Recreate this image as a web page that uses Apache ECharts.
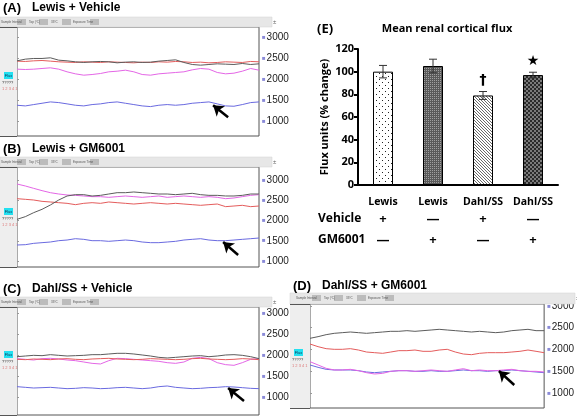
<!DOCTYPE html>
<html><head><meta charset="utf-8">
<script src="https://cdn.jsdelivr.net/npm/echarts@6/dist/echarts.min.js"></script>
<style>html,body{margin:0;padding:0;background:#fff}#c{width:577px;height:416px}</style>
</head><body><div id="c"></div>
<script>
// ================= DATA =================
const yTickValues = [1000, 1500, 2000, 2500, 3000];
const panelLetters = ['(A)', '(B)', '(C)', '(D)'];
const panelTitles = ['Lewis + Vehicle', 'Lewis + GM6001', 'Dahl/SS + Vehicle', 'Dahl/SS + GM6001'];

const aBlack = [2436,2476,2492,2492,2508,2452,2436,2413,2397,2413,2421,2413,2389,2405,2413,2397,2405,2429,2444,2460,2397,2349,2333,2349,2365,2357,2349,2373,2349,2365];
const aRed   = [2429,2421,2436,2444,2429,2413,2405,2397,2413,2405,2397,2413,2405,2397,2389,2405,2397,2413,2405,2421,2413,2397,2405,2389,2397,2413,2405,2397,2421,2413];
const aPink  = [2238,2230,2238,2254,2270,2238,2175,2127,2095,2111,2135,2175,2190,2214,2175,2111,2095,2127,2143,2159,2175,2222,2254,2238,2159,2127,2143,2190,2254,2214];
const aBlue  = [1381,1365,1397,1428,1460,1444,1413,1381,1365,1397,1413,1444,1460,1428,1397,1365,1349,1381,1397,1381,1397,1428,1444,1460,1413,1365,1357,1397,1444,1460];

const bBlack = [2029,2095,2194,2276,2383,2506,2605,2638,2638,2605,2621,2654,2687,2687,2704,2687,2671,2654,2654,2638,2654,2671,2638,2621,2621,2605,2605,2621,2654,2654];
const bRed   = [2539,2523,2506,2473,2457,2440,2424,2391,2424,2440,2424,2457,2440,2424,2407,2424,2440,2424,2407,2424,2407,2391,2375,2391,2407,2342,2358,2375,2342,2358];
const bPink  = [2901,2852,2794,2737,2687,2654,2630,2621,2605,2589,2589,2572,2589,2605,2589,2572,2589,2605,2572,2589,2605,2589,2572,2589,2572,2539,2556,2589,2621,2638];
const bBlue  = [1395,1403,1436,1453,1469,1502,1518,1551,1535,1502,1502,1486,1502,1518,1502,1469,1453,1453,1469,1486,1518,1535,1551,1518,1502,1502,1518,1535,1551,1568];

const cBlack = [1960,1976,1992,1984,2008,1992,1976,1984,1992,2008,2008,2024,2040,2040,2024,2000,1976,1944,1929,1944,1960,1976,1984,1960,1976,2000,2008,1992,1960,1913];
const cRed   = [1897,1889,1905,1897,1889,1905,1913,1897,1889,1905,1913,1921,1905,1897,1889,1897,1913,1905,1897,1889,1897,1913,1921,1905,1897,1889,1897,1913,1905,1889];
const cPink  = [1913,1897,1881,1913,1921,1905,1881,1865,1833,1801,1786,1865,1921,1913,1897,1881,1865,1849,1817,1801,1833,1921,1944,1913,1817,1770,1754,1817,1897,1913];
const cBlue  = [1246,1230,1214,1222,1230,1214,1198,1206,1222,1214,1198,1206,1222,1230,1214,1198,1214,1246,1262,1230,1214,1198,1206,1222,1230,1246,1238,1222,1206,1198];

const dBlack = [2257,2295,2341,2372,2387,2402,2387,2372,2387,2402,2418,2418,2433,2418,2433,2448,2464,2448,2433,2418,2402,2418,2402,2387,2402,2433,2448,2464,2433,2433];
const dRed   = [2126,2065,2019,2004,2004,2019,1988,1942,1927,1912,1942,1973,1973,1988,1958,1958,1988,2004,1942,1896,1881,1912,1927,1927,1927,1942,1958,1988,1958,1927];
const dPink  = [1720,1644,1567,1529,1529,1544,1513,1467,1437,1452,1498,1513,1513,1498,1513,1529,1513,1498,1529,1559,1513,1529,1513,1513,1529,1544,1513,1498,1498,1483];
const dBlue  = [1644,1590,1544,1529,1529,1529,1513,1483,1467,1483,1498,1513,1513,1498,1498,1513,1498,1498,1513,1529,1513,1513,1498,1513,1513,1529,1513,1498,1483,1467];

// arrow annotations (tail, tip) in data coordinates [sample index, flux]
const arrowA = [[25.3, 1095], [23.5, 1381]];
const arrowB = [[26.5, 1148], [24.7, 1469]];
const arrowC = [[27.2, 905], [25.3, 1214]];
const arrowD = [[25.3, 1184], [23.4, 1506]];

const barCategories = ['Lewis', 'Lewis', 'Dahl/SS', 'Dahl/SS'];
const barValues = [100, 105, 79, 97];
const barErrors = [5.5, 6, 3.5, 2.5];
const barMarks = ['', '', '†', '★'];
const vehicleRow = ['+', '—', '+', '—'];
const gm6001Row = ['—', '+', '—', '+'];
const barYTicks = [0, 20, 40, 60, 80, 100, 120];

// ================= LAYOUT =================
const traces = [
  [aBlue, aPink, aRed, aBlack],
  [bBlue, bRed, bPink, bBlack],
  [cBlue, cPink, cRed, cBlack],
  [dBlue, dPink, dRed, dBlack]
];
const arrows = [arrowA, arrowB, arrowC, arrowD];
const traceColors = {blue: '#6a6ae0', pink: '#e466e6', red: '#e45c5c', black: '#5c5c5c'};
const colorOrder = [
  ['blue', 'pink', 'red', 'black'],
  ['blue', 'red', 'pink', 'black'],
  ['blue', 'pink', 'red', 'black'],
  ['blue', 'pink', 'red', 'black']
];
const panels = [
  {x0: 0,   titleY: 8,   barTop: 17,  top: 27,  bottom: 136, left: 17,  right: 259, yMin: 650, yMax: 3240, flux: 72,  barW: 272},
  {x0: 0,   titleY: 149, barTop: 157, top: 167, bottom: 267, left: 17,  right: 259, yMin: 852, yMax: 3321, flux: 208, barW: 272},
  {x0: 0,   titleY: 289, barTop: 297, top: 307, bottom: 415, left: 17,  right: 259, yMin: 571, yMax: 3143, flux: 351, barW: 272},
  {x0: 290, titleY: 286, barTop: 293, top: 304, bottom: 408, left: 310, right: 553, yMin: 655, yMax: 3046, flux: 349, barW: 285}
];
const W = 577, H = 416;

function pattern(w, h, draw) {
  const c = document.createElement('canvas');
  c.width = w; c.height = h;
  const g = c.getContext('2d');
  draw(g);
  return {image: c, repeat: 'repeat'};
}
const barFills = [
  pattern(6, 6, g => { g.fillStyle = '#fff'; g.fillRect(0,0,6,6); g.fillStyle = '#222'; g.fillRect(1,1,1,1); g.fillRect(4,4,1,1); }),
  pattern(2, 2, g => { g.fillStyle = '#5a5a5a'; g.fillRect(0,0,2,2); g.fillStyle = '#a0a0a0'; g.fillRect(0,0,1,1); }),
  pattern(3, 3, g => { g.fillStyle = '#fff'; g.fillRect(0,0,3,3); g.fillStyle = '#6a6a6a'; for (let i=0;i<3;i++) g.fillRect(i,i,1,1); }),
  pattern(4, 4, g => { g.fillStyle = '#2a2a2a'; g.fillRect(0,0,4,4); g.fillStyle = '#7a7a7a'; g.fillRect(0,0,2,2); g.fillRect(2,2,2,2); })
];

const grids = [], xAxes = [], yAxes = [], series = [], graphics = [];
const titleFont = 'Liberation Sans, Arial, sans-serif';

panels.forEach((p, k) => {
  const pw = (k === 3) ? W - p.x0 : 290;
  // toolbar
  graphics.push({type: 'rect', shape: {x: p.x0, y: p.barTop, width: p.barW, height: p.top - p.barTop}, style: {fill: '#e7e7e7', stroke: '#d0d0d0', lineWidth: 0.5}, z: 1});
  const tb = [['Sample Interval', 1, 17], ['Top (°C)', 29, 39], ['33°C', 51, 62], ['Exposure Time', 73, 90]];
  tb.forEach(([t, tx, bx]) => {
    graphics.push({type: 'rect', shape: {x: p.x0 + bx + (k===3?5:0), y: p.barTop + 2, width: 9, height: 6}, style: {fill: '#bcbcbc'}, z: 2});
    graphics.push({type: 'text', x: p.x0 + tx + (k===3?5:0), y: p.barTop + 5, style: {text: t, fontSize: 3, fill: '#555', verticalAlign: 'middle', font: '3px sans-serif'}, z: 3});
  });
  graphics.push({type: 'text', x: p.x0 + p.barW + 1, y: p.barTop + 5, style: {text: '±', fontSize: 6, fill: '#666', verticalAlign: 'middle'}, z: 3});
  // left strip
  graphics.push({type: 'rect', shape: {x: p.x0, y: p.top, width: p.left - p.x0, height: p.bottom - p.top}, style: {fill: '#eeeeee'}, z: 1});
  graphics.push({type: 'line', shape: {x1: p.x0, y1: p.bottom + 0.5, x2: p.left, y2: p.bottom + 0.5}, style: {stroke: '#555', lineWidth: 1}, z: 2});
  graphics.push({type: 'line', shape: {x1: p.x0, y1: p.top + 0.5, x2: p.left, y2: p.top + 0.5}, style: {stroke: '#555', lineWidth: 1}, z: 2});
  graphics.push({type: 'rect', shape: {x: p.x0 + 4, y: p.flux, width: 9, height: 7}, style: {fill: '#22e0f0'}, z: 2});
  graphics.push({type: 'text', x: p.x0 + 8.5, y: p.flux + 3.5, style: {text: 'Flux', fontSize: 4, fill: '#135', align: 'center', verticalAlign: 'middle'}, z: 3});
  graphics.push({type: 'text', x: p.x0 + 2, y: p.flux + 11, style: {text: '?????', fontSize: 4, fill: '#333', verticalAlign: 'middle'}, z: 3});
  graphics.push({type: 'text', x: p.x0 + 2, y: p.flux + 17, style: {text: '1 2 3 4 1', fontSize: 4, fill: '#d77', verticalAlign: 'middle'}, z: 3});
  // titles
  graphics.push({type: 'text', x: p.x0 + 3, y: p.titleY, style: {text: panelLetters[k], font: 'bold 13px ' + titleFont, fill: '#000', verticalAlign: 'middle'}, z: 3});
  graphics.push({type: 'text', x: p.x0 + 32, y: p.titleY, style: {text: panelTitles[k], font: 'bold 12px ' + titleFont, fill: '#000', verticalAlign: 'middle'}, z: 3});

  grids.push({left: p.left, top: p.top, width: p.right - p.left, height: p.bottom - p.top, show: true, borderColor: '#555', borderWidth: 1, backgroundColor: '#fff', containLabel: false});
  xAxes.push({gridIndex: k, type: 'value', min: 0, max: 29, show: false});
  yAxes.push({gridIndex: k, type: 'value', position: 'right', min: p.yMin, max: p.yMax,
    splitLine: {show: false}, axisLine: {show: false},
    axisTick: {show: true, length: 2, lineStyle: {color: '#999'}, customValues: yTickValues},
    axisLabel: {show: true, margin: 3, customValues: yTickValues,
      formatter: v => '{s|■}{v|' + v + '}',
      rich: {s: {fontSize: 6, color: '#8a8ad8', padding: [0, 1, 0, 0]}, v: {fontSize: 10, color: '#222', fontFamily: titleFont}}}
  });
  traces[k].forEach((arr, j) => {
    const col = traceColors[colorOrder[k][j]];
    const s = {type: 'line', xAxisIndex: k, yAxisIndex: k, data: arr.map((v, i) => [i, v]), showSymbol: false, symbol: 'none',
      lineStyle: {color: col, width: 1}, itemStyle: {color: col}, animation: false, silent: true, z: 3};
    if (j === 0) {
      s.markLine = {silent: true, animation: false, symbol: ['none', 'arrow'], symbolSize: 10,
        lineStyle: {color: '#000', width: 2.5, type: 'solid'}, label: {show: false},
        data: [[{coord: arrows[k][0]}, {coord: arrows[k][1]}]]};
    }
    series.push(s);
  });
});

// ---- Panel E ----
const eFont = '"Open Sans", "Liberation Sans", sans-serif';
graphics.push({type: 'text', x: 317, y: 29, style: {text: '(E)', font: 'bold 13px ' + eFont, fill: '#000', verticalAlign: 'middle'}, z: 3});
graphics.push({type: 'text', x: 447, y: 29, style: {text: 'Mean renal cortical flux', font: 'bold 11px ' + eFont, fill: '#000', align: 'center', verticalAlign: 'middle'}, z: 3});
graphics.push({type: 'text', x: 318, y: 219, style: {text: 'Vehicle', font: 'bold 12px ' + eFont, fill: '#000', verticalAlign: 'middle'}, z: 3});
graphics.push({type: 'text', x: 318, y: 240, style: {text: 'GM6001', font: 'bold 12px ' + eFont, fill: '#000', verticalAlign: 'middle'}, z: 3});

grids.push({left: 358, top: 49, width: 200, height: 136, containLabel: false});
xAxes.push({gridIndex: 4, type: 'category', data: barCategories,
  axisLine: {lineStyle: {color: '#000', width: 2}},
  axisTick: {alignWithLabel: false, length: 5, lineStyle: {color: '#000', width: 2}},
  axisLabel: {interval: 0, margin: 8, color: '#000',
    formatter: (v, i) => '{a|' + v + '}\n{b|' + vehicleRow[i] + '}\n{c|' + gm6001Row[i] + '}',
    rich: {a: {fontFamily: eFont, fontWeight: 'bold', fontSize: 10.5, lineHeight: 18},
           b: {fontFamily: eFont, fontWeight: 'bold', fontSize: 13, lineHeight: 17},
           c: {fontFamily: eFont, fontWeight: 'bold', fontSize: 13, lineHeight: 24}}}
});
yAxes.push({gridIndex: 4, type: 'value', min: 0, max: 120, interval: 20,
  name: 'Flux units (% change)', nameLocation: 'middle', nameGap: 28, nameRotate: 90,
  nameTextStyle: {fontFamily: eFont, fontWeight: 'bold', fontSize: 11, color: '#000'},
  splitLine: {show: false},
  axisLine: {show: true, lineStyle: {color: '#000', width: 2}},
  axisTick: {show: true, length: 4, lineStyle: {color: '#000', width: 2}},
  axisLabel: {margin: 4, fontFamily: eFont, fontWeight: 'bold', fontSize: 11, color: '#000'}
});
series.push({type: 'bar', xAxisIndex: 4, yAxisIndex: 4, barWidth: 20, animation: false, silent: true,
  data: barValues.map((v, i) => ({value: v, itemStyle: {color: barFills[i], borderColor: '#000', borderWidth: 1}}))});
series.push({type: 'custom', xAxisIndex: 4, yAxisIndex: 4, animation: false, silent: true, z: 5,
  data: barValues.map((v, i) => [i, v, barErrors[i]]),
  renderItem: (params, api) => {
    const i = api.value(0), v = api.value(1), e = api.value(2);
    const top = api.coord([i, v + e]), bot = api.coord([i, v - e]);
    const hw = 4, st = {stroke: '#333', lineWidth: 1};
    const ch = [
      {type: 'line', shape: {x1: top[0], y1: top[1], x2: bot[0], y2: bot[1]}, style: st},
      {type: 'line', shape: {x1: top[0] - hw, y1: top[1], x2: top[0] + hw, y2: top[1]}, style: st},
      {type: 'line', shape: {x1: bot[0] - hw, y1: bot[1], x2: bot[0] + hw, y2: bot[1]}, style: st}
    ];
    const m = barMarks[params.dataIndex];
    if (m) ch.push({type: 'text', x: top[0], y: top[1] - 11, style: {text: m, fill: '#000', font: 'bold 14px "DejaVu Sans", sans-serif', align: 'center', verticalAlign: 'middle'}});
    return {type: 'group', children: ch};
  }});

const chart = echarts.init(document.getElementById('c'), null, {renderer: 'canvas'});
chart.setOption({animation: false, backgroundColor: '#fff', grid: grids, xAxis: xAxes, yAxis: yAxes, series: series, graphic: graphics});
</script></body></html>
